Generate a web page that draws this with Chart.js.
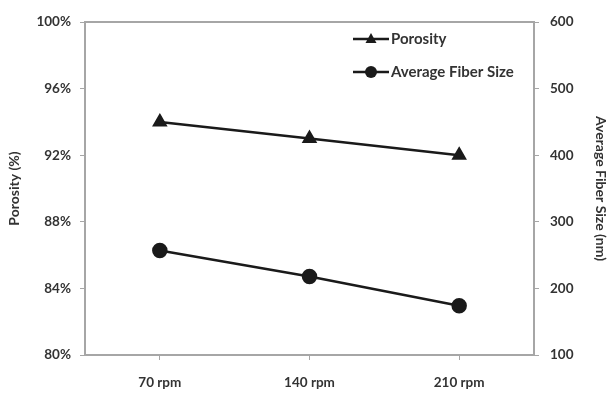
<!DOCTYPE html>
<html>
<head>
<meta charset="utf-8">
<script src="https://cdn.jsdelivr.net/npm/chart.js@4.4.0/dist/chart.umd.min.js"></script>
<style>
    html, body { margin: 0; padding: 0; background: #fff; }
    #wrap { width: 609px; height: 394px; }
</style>
</head>
<body>
<div id="wrap"><canvas id="myChart" width="609" height="394"></canvas></div>
<script>
const categories = ['70 rpm', '140 rpm', '210 rpm'];
const porosity = [94, 93, 92];
const fiberSize = [257, 218, 174];
const porosityTicks = [80, 84, 88, 92, 96, 100];
const fiberTicks = [100, 200, 300, 400, 500, 600];

const axisColor = '#a6a6a6';
const textColor = '#333333';
const markColor = '#1a1a1a';
const tickFont = { family: 'Lato', size: 13.5, weight: 'bold' };
const titleFont = { family: 'Lato', size: 14, weight: 'bold' };

// top border of the plot + legend inside the plot area
const framePlugin = {
    id: 'frame',
    afterDraw(chart) {
        const ctx = chart.ctx;
        const a = chart.chartArea;
        ctx.save();
        ctx.strokeStyle = axisColor;
        ctx.lineWidth = 2;
        ctx.beginPath();
        ctx.moveTo(a.left, a.top);
        ctx.lineTo(a.right, a.top);
        ctx.stroke();

        const items = [
            { label: 'Porosity', style: 'triangle' },
            { label: 'Average Fiber Size', style: 'circle' }
        ];
        const x0 = 353, x1 = 389;
        items.forEach((it, i) => {
            const y = 39 + i * 33;
            ctx.strokeStyle = markColor;
            ctx.lineWidth = 2.5;
            ctx.beginPath();
            ctx.moveTo(x0, y);
            ctx.lineTo(x1, y);
            ctx.stroke();
            ctx.fillStyle = markColor;
            const cx = (x0 + x1) / 2;
            ctx.beginPath();
            if (it.style === 'triangle') {
                ctx.moveTo(cx, y - 6);
                ctx.lineTo(cx + 5.5, y + 4);
                ctx.lineTo(cx - 5.5, y + 4);
                ctx.closePath();
            } else {
                ctx.arc(cx, y, 6, 0, Math.PI * 2);
            }
            ctx.fill();
            ctx.fillStyle = textColor;
            ctx.font = 'bold 15px Lato';
            ctx.textBaseline = 'middle';
            ctx.textAlign = 'left';
            ctx.fillText(it.label, x1 + 2, y);
        });
        ctx.restore();
    }
};

new Chart(document.getElementById('myChart').getContext('2d'), {
    type: 'line',
    data: {
        labels: categories,
        datasets: [
            {
                label: 'Porosity',
                data: porosity,
                yAxisID: 'y',
                borderColor: markColor,
                backgroundColor: markColor,
                borderWidth: 2.5,
                pointStyle: 'triangle',
                pointRadius: 6.5,
                pointHoverRadius: 6.5,
                tension: 0
            },
            {
                label: 'Average Fiber Size',
                data: fiberSize,
                yAxisID: 'y1',
                borderColor: markColor,
                backgroundColor: markColor,
                borderWidth: 2.5,
                pointStyle: 'circle',
                pointRadius: 6.5,
                pointHoverRadius: 6.5,
                tension: 0
            }
        ]
    },
    options: {
        responsive: false,
        animation: false,
        layout: { padding: { left: 0, right: 0, top: 22, bottom: 0 } },
        plugins: {
            legend: { display: false },
            tooltip: { enabled: false }
        },
        scales: {
            x: {
                offset: true,
                grid: { display: true, drawOnChartArea: false, color: axisColor, tickLength: 5, offset: false },
                border: { color: axisColor, width: 2 },
                ticks: { color: textColor, font: tickFont, padding: 15 },
                afterFit(scale) { scale.height = 39; }
            },
            y: {
                position: 'left',
                min: 80,
                max: 100,
                afterBuildTicks(scale) { scale.ticks = porosityTicks.map(v => ({ value: v })); },
                grid: { display: true, drawOnChartArea: false, color: axisColor, tickLength: 5 },
                border: { color: axisColor, width: 2 },
                ticks: { color: textColor, font: tickFont, padding: 9, callback: v => v + '%' },
                title: { display: true, text: 'Porosity (%)', color: textColor, font: titleFont, padding: { top: 6, bottom: 0 } },
                afterFit(scale) { scale.width = 85; }
            },
            y1: {
                position: 'right',
                min: 100,
                max: 600,
                afterBuildTicks(scale) { scale.ticks = fiberTicks.map(v => ({ value: v })); },
                grid: { display: true, drawOnChartArea: false, color: axisColor, tickLength: 5 },
                border: { color: axisColor, width: 2 },
                ticks: { color: textColor, font: tickFont, padding: 11 },
                title: { display: true, text: 'Average Fiber Size (nm)', color: textColor, font: titleFont, padding: 0 },
                afterFit(scale) { scale.width = 75; }
            }
        }
    },
    plugins: [framePlugin]
});
</script>
</body>
</html>
